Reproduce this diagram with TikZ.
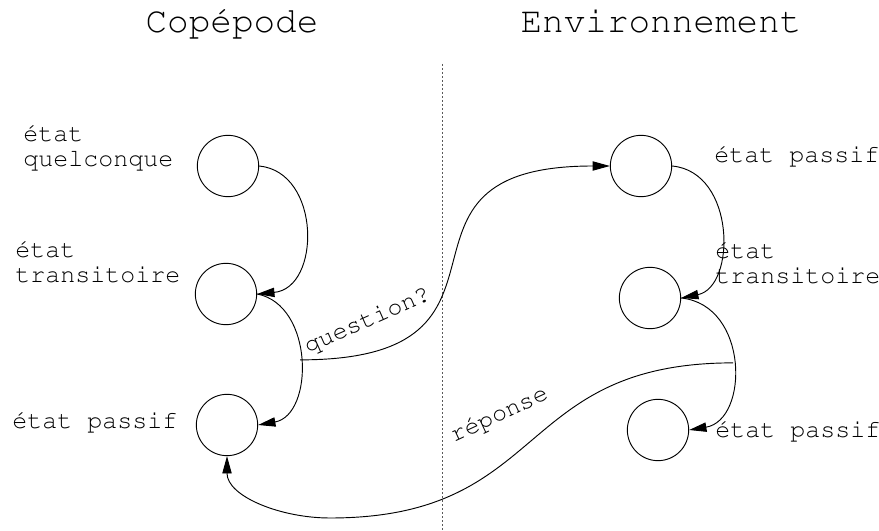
\documentclass[tikz,border=0pt]{standalone}
\usepackage[T1]{fontenc}
\usepackage{courier}
\usepackage{tikz}
\usetikzlibrary{arrows.meta,positioning}

\tikzset{
  etat/.style={circle, draw, line width=0.7pt, minimum size=46pt, inner sep=0pt},
  lbl/.style={font=\ttfamily\fontsize{18.75}{18.75}\selectfont, align=left, inner sep=0pt},
  titre/.style={font=\ttfamily\fontsize{27}{27}\selectfont, inner sep=0pt},
  fleche/.style={-{Triangle[length=13pt,width=7pt]}, line width=0.7pt},
}

\begin{document}
\begin{tikzpicture}[x=0.75pt, y=-0.75pt]
  \useasboundingbox (0,0) rectangle (879,531);
  % column titles
  \node[titre, anchor=base] (tcop) at (232,33) {Copépode};
  \node[titre, anchor=base] (tenv) at (661,33) {Environnement};
  % separator
  \draw[gray!70!black, dash pattern=on 1.5pt off 1.5pt] (442,64) -- (442,531);
  % copepod states
  \node[etat] (cop1) at (228,166) {};
  \node[etat] (cop2) at (226,294) {};
  \node[etat] (cop3) at (227,425) {};
  \node[lbl, anchor=base west] (lcop1) at (23,167) {état\\quelconque};
  \node[lbl, anchor=base west] (lcop2) at (15,282) {état\\transitoire};
  \node[lbl, anchor=base west] (lcop3) at (12,428) {état passif};
  % environment states
  \node[etat] (env1) at (641,166) {};
  \node[etat] (env2) at (650,298) {};
  \node[etat] (env3) at (658,430) {};
  \node[lbl, anchor=base west] (lenv1) at (714,163) {état passif};
  \node[lbl, anchor=base west] (lenv2) at (715,283) {état\\transitoire};
  \node[lbl, anchor=base west] (lenv3) at (715,437) {état passif};
  % transitions
  \draw[fleche] (cop1.east) .. controls +(62,6) and +(64,-6) .. (cop2.east);
  \draw[fleche] (cop2.east) .. controls +(57,11) and +(56,-10) .. (cop3.east)
    coordinate[pos=.5] (jq);
  \draw[fleche] (env1.east) .. controls +(64,6) and +(55,-11) .. (env2.east);
  \draw[fleche] (env2.east) .. controls +(68,7) and +(60,-10) .. (env3.east)
    coordinate[pos=.5] (jr);
  % exchanges
  \coordinate (bas) at (330,518);
  \draw[fleche] (jq) .. controls +(250,0) and +(-250,0) .. (env1.west);
  \draw[fleche] (jr) .. controls +(-220,0) and +(220,0) .. (bas)
    .. controls +(-50,0) and +(0,40) .. (cop3.south);
  \node[lbl, rotate=24, anchor=base west] (lq) at (308,354) {question?};
  \node[lbl, rotate=25, anchor=base west] (lr) at (454,443) {réponse};
\end{tikzpicture}
\end{document}
